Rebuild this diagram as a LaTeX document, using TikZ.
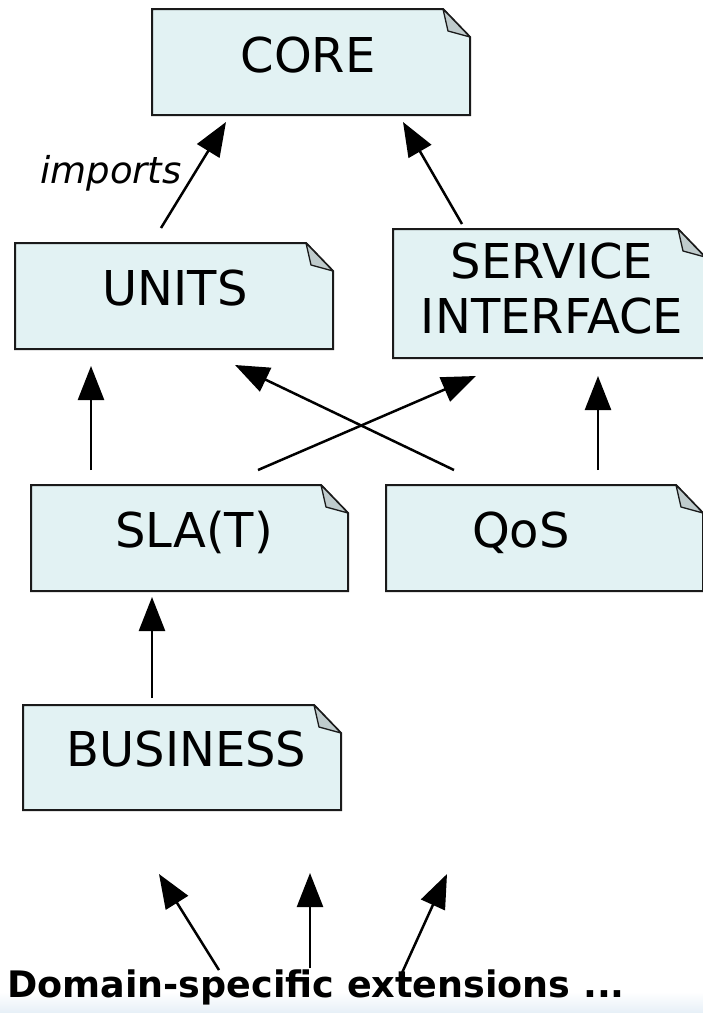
\documentclass[tikz,border=0pt]{standalone}
\usepackage{fontspec}
\setmainfont{DejaVu Sans}
\usetikzlibrary{arrows.meta,calc}
\definecolor{notefill}{HTML}{E2F2F3}
\definecolor{foldfill}{HTML}{BFCBCC}
\definecolor{noteline}{HTML}{1A1A1A}
\definecolor{slideblue}{HTML}{E6EFF7}
\tikzset{
  note/.style={rectangle, inner sep=0pt, outer sep=0pt, anchor=north west},
  notetext/.style={font=\fontsize{48}{55}\selectfont, inner sep=0pt, anchor=base, align=center},
  dep/.style={draw=black, line width=2.5pt, -{Triangle[length=34pt,width=26pt]}},
}
% \notebox{name}{left}{top}{width}{height}: a dog-eared note outline
\newcommand\notebox[5]{%
  \node[note, minimum width=#4pt, minimum height=#5pt] (#1) at (#2,#3) {};
  \filldraw[fill=notefill, draw=noteline, line width=2pt, line join=miter]
    (#1.north west) -- ([xshift=-27pt]#1.north east) -- ([yshift=-28pt]#1.north east)
    -- (#1.south east) -- (#1.south west) -- cycle;
  \filldraw[fill=foldfill, draw=noteline, line width=1.3pt, line join=round]
    ([xshift=-27pt]#1.north east) -- ([xshift=-22pt,yshift=-22pt]#1.north east)
    -- ([yshift=-28pt]#1.north east) -- cycle;
}
\begin{document}
\begin{tikzpicture}[x=1pt, y=-1pt]
  \clip (0,0) rectangle (703,1013);
  \fill[white] (0,0) rectangle (703,1013);
  \shade[top color=white, bottom color=slideblue] (0,992) rectangle (703,1013);

  % packages
  \notebox{core}{152}{9}{318}{106}
  \notebox{units}{15}{243}{318}{106}
  \notebox{svc}{393}{229}{312}{129}
  \notebox{sla}{31}{485}{317}{106}
  \notebox{qos}{386}{485}{317}{106}
  \notebox{bus}{23}{705}{318}{105}

  \node[notetext] (core-t)  at (308,72)  {CORE};
  \node[notetext] (units-t) at (175,305) {UNITS};
  \node[notetext] (svc-t)   at (552,333) {SERVICE\\INTERFACE};
  \node[notetext] (sla-t)   at (194,547) {SLA(T)};
  \node[notetext] (qos-t)   at (521,547) {QoS};
  \node[notetext] (bus-t)   at (186.5,766) {BUSINESS};

  \node[font=\fontsize{37}{44}\selectfont\itshape, anchor=base, inner sep=0pt] (imp) at (111,183) {imports};
  \node[font=\fontsize{36.5}{43}\selectfont\bfseries, anchor=base, inner sep=0pt] (ext) at (316,997) {Domain-specific extensions ...};

  % import dependencies
  \draw[dep] ($(units.north)+(-13,-15)$) -- ($(core.south)+(-85,7)$);
  \draw[dep] ($(svc.north)+(-87,-5)$) -- ($(core.south)+(92,7)$);
  \draw[dep] ($(sla.north)+(-98.5,-15)$) -- ($(units.south)+(-83,17)$);
  \draw[dep] ($(qos.north)+(-90.5,-15)$) -- ($(units.south)+(61,16)$);
  \draw[dep] ($(sla.north)+(68.5,-15)$) -- ($(svc.south)+(-73,18)$);
  \draw[dep] ($(qos.north)+(53.5,-15)$) -- ($(svc.south)+(49,18)$);
  \draw[dep] ($(bus.north)+(-30,-7)$) -- ($(sla.south)+(-37.5,6)$);

  % domain-specific extensions
  \coordinate (ext-a) at (159,874);
  \coordinate (ext-b) at (310,873);
  \coordinate (ext-c) at (447,874);
  \draw[dep] ($(ext.north)+(-97,1)$) -- (ext-a);
  \draw[dep] ($(ext.north)+(-6,-1)$) -- (ext-b);
  \draw[dep] ($(ext.north)+(85,6)$) -- (ext-c);
\end{tikzpicture}
\end{document}
